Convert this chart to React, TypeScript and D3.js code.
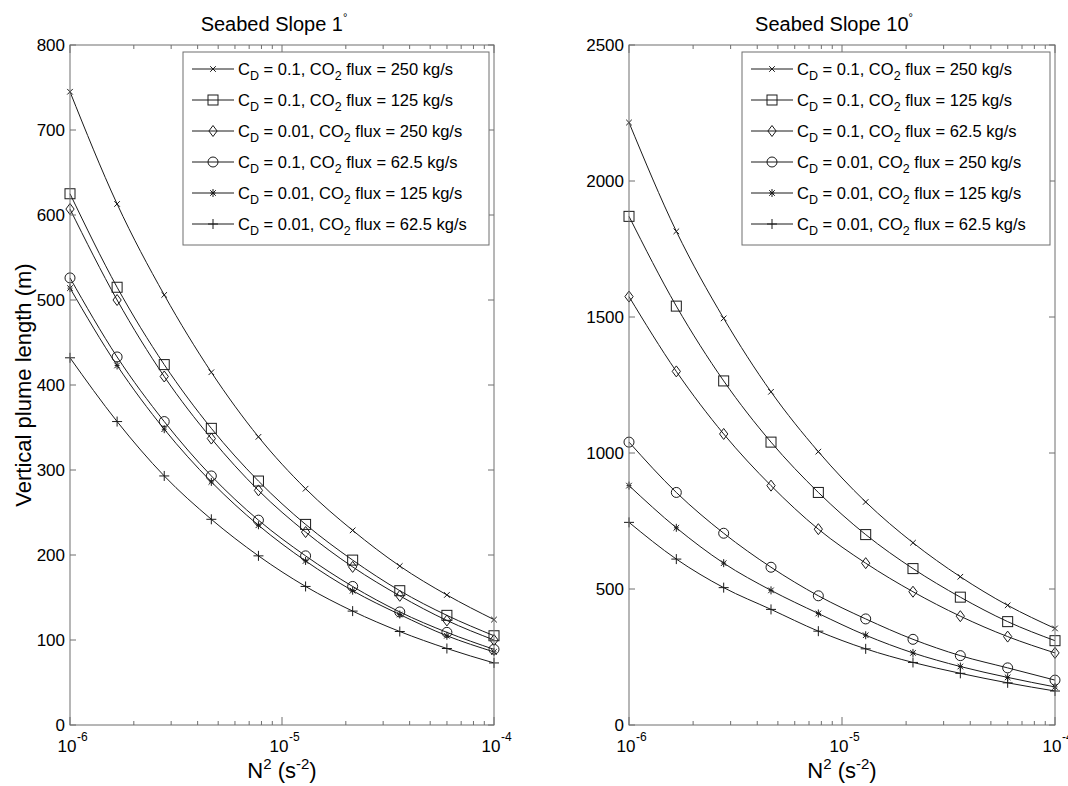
import React from "react";
import * as d3 from "d3";

const N2 = [1e-6, 1.668e-6, 2.783e-6, 4.642e-6, 7.743e-6, 1.292e-5, 2.154e-5, 3.594e-5, 5.995e-5, 1e-4];

// Left panel (slope 1°)
const L_CD = ["0.1", "0.1", "0.01", "0.1", "0.01", "0.01"];
const L_FLUX = ["250", "125", "250", "62.5", "125", "62.5"];
const L_MARK = ["x", "square", "diamond", "circle", "star", "plus"];
const L1 = [745, 613, 506, 415, 339, 278, 229, 187, 153, 124];
const L2 = [625, 515, 424, 349, 287, 236, 194, 158, 129, 105];
const L3 = [607, 500, 410, 337, 276, 227, 186, 152, 123, 100];
const L4 = [526, 433, 357, 293, 241, 199, 163, 133, 109, 89];
const L5 = [514, 423, 348, 286, 235, 193, 158, 130, 105, 86];
const L6 = [432, 357, 293, 242, 199, 163, 134, 110, 90, 73];
const L_TICKS = [0, 100, 200, 300, 400, 500, 600, 700, 800];

// Right panel (slope 10°)
const R_CD = ["0.1", "0.1", "0.1", "0.01", "0.01", "0.01"];
const R_FLUX = ["250", "125", "62.5", "250", "125", "62.5"];
const R_MARK = ["x", "square", "diamond", "circle", "star", "plus"];
const R1 = [2215, 1815, 1495, 1225, 1005, 820, 670, 545, 440, 355];
const R2 = [1870, 1540, 1265, 1040, 855, 700, 575, 470, 380, 310];
const R3 = [1575, 1300, 1070, 880, 720, 595, 490, 400, 325, 265];
const R4 = [1040, 855, 705, 580, 475, 390, 315, 255, 210, 165];
const R5 = [880, 725, 595, 495, 410, 330, 265, 215, 175, 140];
const R6 = [745, 610, 505, 425, 345, 280, 230, 190, 155, 125];
const R_TICKS = [0, 500, 1000, 1500, 2000, 2500];

const FONT = "'Liberation Sans', Arial, Helvetica, sans-serif";
const AX = "#6e6e6e";
const LN = "#1a1a1a";

function Marker({ type, x, y }: { type: string; x: number; y: number }) {
  const s = { fill: "none", stroke: LN, strokeWidth: 1 } as any;
  if (type === "x") {
    const r = 2.8;
    return <path d={`M${x - r},${y - r}L${x + r},${y + r}M${x - r},${y + r}L${x + r},${y - r}`} {...s} />;
  }
  if (type === "square") {
    const r = 5;
    return <rect x={x - r} y={y - r} width={2 * r} height={2 * r} {...s} />;
  }
  if (type === "diamond") {
    const r = 5.5;
    return <path d={`M${x},${y - r}L${x + r * 0.75},${y}L${x},${y + r}L${x - r * 0.75},${y}Z`} {...s} />;
  }
  if (type === "circle") {
    return <circle cx={x} cy={y} r={5} {...s} />;
  }
  if (type === "star") {
    const r = 4;
    const d = r * 0.7;
    return (
      <path
        d={`M${x},${y - r}L${x},${y + r}M${x - d},${y - d}L${x + d},${y + d}M${x - d},${y + d}L${x + d},${y - d}M${x - r * 0.6},${y}L${x + r * 0.6},${y}`}
        {...s}
      />
    );
  }
  const r = 5;
  return <path d={`M${x - r},${y}L${x + r},${y}M${x},${y - r}L${x},${y + r}`} {...s} />;
}

function Panel({
  left,
  right,
  top,
  bottom,
  ymax,
  yticks,
  series,
  marks,
  cds,
  fluxes,
  title,
  legendLeft,
  showYLabel,
}: any) {
  const x = d3.scaleLog().domain([1e-6, 1e-4]).range([left, right]);
  const y = d3.scaleLinear().domain([0, ymax]).range([bottom, top]);
  const line = d3
    .line<number>()
    .x((_, i) => x(N2[i]))
    .y((d) => y(d))
    .curve(d3.curveMonotoneX);
  const minor: number[] = [];
  [1e-6, 1e-5].forEach((dec) => {
    for (let k = 2; k <= 9; k++) minor.push(dec * k);
  });
  const majors = [1e-6, 1e-5, 1e-4];
  const supExp = ["-6", "-5", "-4"];
  const lgTop = 52;
  const lgBottom = 245;
  const lgRight = right - 5;
  const rowH = 31;
  return (
    <g fontFamily={FONT}>
      <rect x={left} y={top} width={right - left} height={bottom - top} fill="#fff" />
      {series.map((s: number[], si: number) => (
        <g key={si}>
          <path d={line(s) || ""} fill="none" stroke={LN} strokeWidth={1} />
          {s.map((v, i) => (
            <Marker key={i} type={marks[si]} x={x(N2[i])} y={y(v)} />
          ))}
        </g>
      ))}
      <rect x={left} y={top} width={right - left} height={bottom - top} fill="none" stroke={AX} strokeWidth={1} />
      {yticks.map((t: number) => (
        <g key={t}>
          <line x1={left} x2={left + 6} y1={y(t)} y2={y(t)} stroke={AX} />
          <line x1={right} x2={right - 6} y1={y(t)} y2={y(t)} stroke={AX} />
          <text x={left - 5} y={y(t)} dy="0.36em" textAnchor="end" fontSize={17} fill="#000">
            {t}
          </text>
        </g>
      ))}
      {minor.map((t) => (
        <g key={t}>
          <line x1={x(t)} x2={x(t)} y1={bottom} y2={bottom - 4} stroke={AX} />
          <line x1={x(t)} x2={x(t)} y1={top} y2={top + 4} stroke={AX} />
        </g>
      ))}
      {majors.map((t, i) => (
        <g key={t}>
          <line x1={x(t)} x2={x(t)} y1={bottom} y2={bottom - 8} stroke={AX} />
          <line x1={x(t)} x2={x(t)} y1={top} y2={top + 8} stroke={AX} />
          <text x={x(t) - 3} y={bottom + 27} textAnchor="middle" fontSize={17} fill="#000">
            10
          </text>
          <text x={x(t) + 7} y={bottom + 16} textAnchor="start" fontSize={12} fill="#000">
            {supExp[i]}
          </text>
        </g>
      ))}
      <text x={(left + right) / 2} y={bottom + 53} textAnchor="middle" fontSize={22} fill="#000">
        N<tspan dy={-9} fontSize={15}>2</tspan>
        <tspan dy={9}> (s</tspan>
        <tspan dy={-9} fontSize={15}>-2</tspan>
        <tspan dy={9}>)</tspan>
      </text>
      <text x={(left + right) / 2 - 8} y={top - 14} textAnchor="middle" fontSize={20} fill="#000">
        {title}
        <tspan dy={-10} fontSize={11}>°</tspan>
      </text>
      {showYLabel && (
        <text
          transform={`translate(${left - 39},${(top + bottom) / 2}) rotate(-90)`}
          textAnchor="middle"
          fontSize={22}
          fill="#000"
        >
          Vertical plume length (m)
        </text>
      )}
      <rect x={legendLeft} y={lgTop} width={lgRight - legendLeft} height={lgBottom - lgTop} fill="#fff" stroke={AX} strokeWidth={1} />
      {marks.map((m: string, i: number) => {
        const cy = lgTop + 17 + i * rowH;
        const lx = legendLeft + 9;
        return (
          <g key={i}>
            <line x1={lx} x2={lx + 42} y1={cy} y2={cy} stroke={LN} strokeWidth={1} />
            <Marker type={m} x={lx + 21} y={cy} />
            <text x={lx + 46} y={cy + 6} fontSize={16.5} fill="#000">
              C<tspan dy={5} fontSize={12.5}>D</tspan>
              <tspan dy={-5}>{` = ${cds[i]}, CO`}</tspan>
              <tspan dy={5} fontSize={12.5}>2</tspan>
              <tspan dy={-5}>{` flux = ${fluxes[i]} kg/s`}</tspan>
            </text>
          </g>
        );
      })}
    </g>
  );
}

export default function App() {
  return (
    <svg width={1068} height={786} style={{ position: "absolute", left: 0, top: 0, display: "block" }}>
      <rect x={0} y={0} width={1068} height={786} fill="#fff" />
      <Panel
        left={70}
        right={494}
        top={45}
        bottom={725}
        ymax={800}
        yticks={L_TICKS}
        series={[L1, L2, L3, L4, L5, L6]}
        marks={L_MARK}
        cds={L_CD}
        fluxes={L_FLUX}
        title="Seabed Slope 1"
        legendLeft={183}
        showYLabel={true}
      />
      <Panel
        left={629}
        right={1055}
        top={45}
        bottom={725}
        ymax={2500}
        yticks={R_TICKS}
        series={[R1, R2, R3, R4, R5, R6]}
        marks={R_MARK}
        cds={R_CD}
        fluxes={R_FLUX}
        title="Seabed Slope 10"
        legendLeft={742}
        showYLabel={false}
      />
    </svg>
  );
}
